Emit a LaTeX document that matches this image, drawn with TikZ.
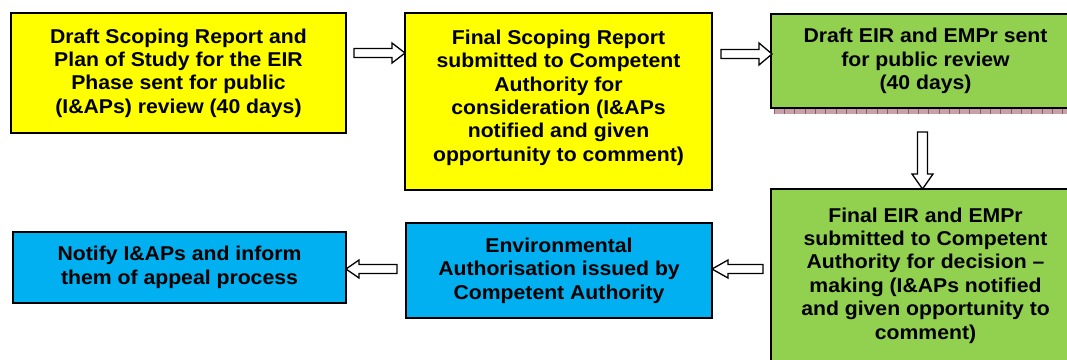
\documentclass[tikz,border=0pt]{standalone}
\usepackage{fontspec}
\setmainfont{Liberation Sans}[FakeStretch=1.06]
\usetikzlibrary{calc}
\definecolor{byellow}{HTML}{FFFF00}
\definecolor{bgreen}{HTML}{92D050}
\definecolor{bblue}{HTML}{00B0F0}
\definecolor{shadefill}{HTML}{C8A2AA}
\definecolor{shadeline}{HTML}{8E5A64}
\tikzset{
  box/.style={draw=black, line width=1.5pt, inner sep=0pt, outer sep=0pt,
    align=center, text=black,
    font=\bfseries\fontsize{20}{23.4}\selectfont},
  ybox/.style={box, fill=byellow},
  gbox/.style={box, fill=bgreen},
  cbox/.style={box, fill=bblue},
  pics/barrow/.style n args={4}{code={
    \draw[line width=1.3pt, fill=white, line join=miter]
      (0,0) -- (-#2,#3) -- (-#2,#4) -- (-#1,#4) -- (-#1,-#4)
      -- (-#2,-#4) -- (-#2,-#3) -- cycle;}}
}
\begin{document}
\begin{tikzpicture}[x=1pt,y=-1pt]
\useasboundingbox (0,0) rectangle (1067,359);
\clip (0,0) rectangle (1067,359);
\fill[white] (0,0) rectangle (1067,359);

\node[ybox, minimum width=335, minimum height=120] (b1) at (178.5,73)
  {Draft Scoping Report and\\Plan of Study for the EIR\\Phase sent for public\\(I\&APs) review (40 days)};
\node[ybox, minimum width=307, minimum height=177] (b2) at (558.5,101.5)
  {Final Scoping Report\\submitted to Competent\\Authority for\\consideration (I\&APs\\notified and given\\opportunity to comment)\rule[-12pt]{0pt}{0pt}};
\node[gbox, minimum width=309, minimum height=94] (b3) at (925.5,61)
  {Draft EIR and EMPr sent\\for public review\\(40 days)};
\node[gbox, minimum width=309, minimum height=173] (b4) at (925.5,275.5)
  {Final EIR and EMPr\\submitted to Competent\\Authority for decision --\\making (I\&APs notified\\and given opportunity to\\comment)};
\node[cbox, minimum width=306, minimum height=95] (b5) at (559,270.5)
  {Environmental\\Authorisation issued by\\Competent Authority};
\node[cbox, minimum width=333, minimum height=71] (b6) at (179.5,267.5)
  {Notify I\&APs and inform\\them of appeal process};

% shadow strip under b3
\coordinate (s1) at ($(b3.south west)+(3,0.8)$);
\coordinate (s2) at ($(b3.south east)+(0,6)$);
\fill[shadefill] (s1) rectangle (s2);
\foreach \i in {0,...,29}{
  \draw[shadeline, line width=0.6pt] ($(s1)+(10.3*\i,0)$) -- ++(0,5.2);
}

% block arrows
\pic at ($(b2.north west)+(0,40)$) {barrow={51}{13}{10}{4.5}};
\pic at ($(b3.north west)+(1,40)$) {barrow={51}{13}{11}{4.5}};
\pic[rotate=-90] at ($(b4.north)+(-3,0)$) {barrow={57}{15}{10.5}{5}};
\pic[rotate=180] at ($(b5.east)+(0,-1.5)$) {barrow={51}{16}{9}{4.5}};
\pic[rotate=180] at ($(b6.east)+(0,1.5)$) {barrow={51}{13}{9}{4.5}};
\end{tikzpicture}
\end{document}
